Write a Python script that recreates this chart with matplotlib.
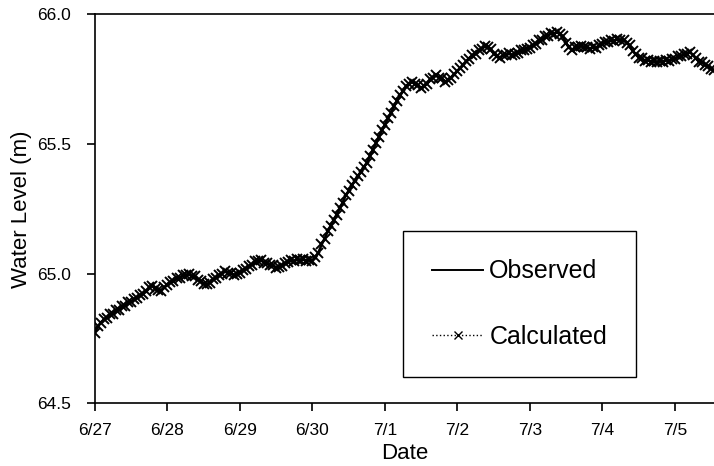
import numpy as np
import matplotlib.pyplot as plt
from matplotlib.lines import Line2D

plt.rcParams['font.family'] = ['Liberation Sans', 'DejaVu Sans']

# hourly readings starting 6/27 00:00
hours = list(range(206))
observed = [
    64.775, 64.795, 64.812, 64.822, 64.830, 64.840, 64.847, 64.855, 64.862, 64.870,
    64.878, 64.886, 64.893, 64.900, 64.907, 64.915, 64.922, 64.930, 64.945, 64.955,
    64.945, 64.932, 64.935, 64.945, 64.958, 64.966, 64.972, 64.978, 64.984, 64.990,
    64.995, 64.996, 64.992, 64.986, 64.978, 64.968, 64.960, 64.956, 64.965, 64.976,
    64.984, 64.992, 65.000, 65.006, 65.005, 65.000, 64.996, 64.996, 65.004, 65.012,
    65.020, 65.027, 65.035, 65.044, 65.052, 65.050, 65.044, 65.038, 65.034, 65.030,
    65.025, 65.022, 65.030, 65.038, 65.045, 65.048, 65.050, 65.052, 65.053, 65.053,
    65.052, 65.050, 65.049, 65.060, 65.082, 65.110, 65.135, 65.160, 65.185, 65.205,
    65.228, 65.250, 65.275, 65.300, 65.320, 65.340, 65.358, 65.375, 65.393, 65.410,
    65.428, 65.452, 65.478, 65.502, 65.528, 65.552, 65.575, 65.598, 65.620, 65.645,
    65.668, 65.685, 65.705, 65.722, 65.735, 65.738, 65.735, 65.725, 65.718, 65.722,
    65.735, 65.748, 65.758, 65.762, 65.758, 65.750, 65.742, 65.745, 65.755, 65.768,
    65.782, 65.792, 65.805, 65.818, 65.830, 65.840, 65.850, 65.860, 65.868, 65.875,
    65.876, 65.865, 65.850, 65.838, 65.835, 65.840, 65.845, 65.847, 65.845, 65.846,
    65.852, 65.858, 65.864, 65.869, 65.872, 65.880, 65.888, 65.897, 65.905, 65.912,
    65.920, 65.925, 65.928, 65.930, 65.925, 65.912, 65.890, 65.870, 65.865, 65.870,
    65.876, 65.877, 65.875, 65.872, 65.870, 65.871, 65.873, 65.880, 65.887, 65.892,
    65.895, 65.898, 65.900, 65.903, 65.902, 65.898, 65.892, 65.878, 65.860, 65.846,
    65.835, 65.827, 65.824, 65.822, 65.820, 65.818, 65.817, 65.818, 65.820, 65.822,
    65.824, 65.826, 65.830, 65.835, 65.840, 65.845, 65.850, 65.853, 65.845, 65.830,
    65.818, 65.815, 65.808, 65.798, 65.790, 65.782,
]
calculated = [
    64.772, 64.798, 64.810, 64.825, 64.828, 64.843, 64.845, 64.858, 64.860, 64.873,
    64.876, 64.889, 64.891, 64.903, 64.905, 64.918, 64.920, 64.933, 64.948, 64.952,
    64.942, 64.935, 64.932, 64.948, 64.955, 64.969, 64.970, 64.981, 64.982, 64.993,
    64.993, 64.999, 64.990, 64.989, 64.975, 64.971, 64.958, 64.959, 64.962, 64.979,
    64.982, 64.995, 64.998, 65.009, 65.003, 65.003, 64.994, 64.999, 65.002, 65.015,
    65.018, 65.030, 65.033, 65.047, 65.050, 65.053, 65.042, 65.041, 65.032, 65.033,
    65.023, 65.025, 65.028, 65.041, 65.043, 65.051, 65.048, 65.055, 65.051, 65.056,
    65.050, 65.053, 65.047, 65.063, 65.080, 65.113, 65.133, 65.163, 65.183, 65.208,
    65.226, 65.253, 65.273, 65.303, 65.318, 65.343, 65.356, 65.378, 65.391, 65.413,
    65.426, 65.455, 65.476, 65.505, 65.526, 65.555, 65.573, 65.601, 65.618, 65.648,
    65.666, 65.688, 65.703, 65.725, 65.733, 65.741, 65.733, 65.728, 65.716, 65.725,
    65.733, 65.751, 65.756, 65.765, 65.756, 65.753, 65.740, 65.748, 65.753, 65.771,
    65.780, 65.795, 65.803, 65.821, 65.828, 65.843, 65.848, 65.863, 65.866, 65.878,
    65.874, 65.868, 65.848, 65.841, 65.833, 65.843, 65.843, 65.850, 65.843, 65.849,
    65.850, 65.861, 65.862, 65.867, 65.870, 65.883, 65.886, 65.900, 65.903, 65.915,
    65.918, 65.928, 65.926, 65.933, 65.923, 65.915, 65.888, 65.873, 65.863, 65.873,
    65.874, 65.880, 65.873, 65.875, 65.868, 65.874, 65.871, 65.883, 65.885, 65.895,
    65.893, 65.901, 65.898, 65.906, 65.900, 65.901, 65.890, 65.881, 65.858, 65.849,
    65.833, 65.830, 65.822, 65.825, 65.818, 65.821, 65.815, 65.821, 65.818, 65.825,
    65.822, 65.829, 65.828, 65.838, 65.838, 65.848, 65.848, 65.856, 65.843, 65.833,
    65.816, 65.818, 65.806, 65.801, 65.788, 65.785,
]
date_labels = ["6/27", "6/28", "6/29", "6/30", "7/1", "7/2", "7/3", "7/4", "7/5"]
y_ticks = [64.5, 65.0, 65.5, 66.0]

days = np.array(hours) / 24.0

fig = plt.figure(figsize=(7.14, 4.66), dpi=100)
ax = fig.add_axes([0.133, 0.135, 0.867, 0.834])

ax.plot(days, observed, color='black', lw=1.8, zorder=2)
ax.plot(days, calculated, color='black', ls=':', lw=1.0, marker='x',
        ms=6.5, mew=1.4, zorder=3)

ax.set_xlim(0, 8.54)
ax.set_ylim(64.5, 66.0)
ax.set_xticks(range(len(date_labels)))
ax.set_xticklabels(date_labels)
ax.set_yticks(y_ticks)
ax.set_yticklabels([f"{v:.1f}" for v in y_ticks])
ax.tick_params(direction='out', length=6, width=1.2, labelsize=12.5,
               colors='black')
ax.tick_params(axis='x', pad=8)
ax.tick_params(axis='y', pad=11)
ax.spines['right'].set_visible(False)
for s in ['left', 'bottom', 'top']:
    ax.spines[s].set_linewidth(1.2)

ax.set_xlabel("Date", fontsize=16, labelpad=4)
ax.set_ylabel("Water Level (m)", fontsize=16, labelpad=4)

handles = [Line2D([], [], color='black', lw=1.4),
           Line2D([], [], color='black', ls=':', lw=1.0, marker='x', ms=6, mew=1.0)]
leg = ax.legend(handles, ["Observed", "Calculated"], loc='center',
                bbox_to_anchor=(519.5 / 714, 1 - 304 / 466),
                bbox_transform=fig.transFigure, fontsize=18, frameon=True,
                fancybox=False, edgecolor='black', framealpha=1,
                handlelength=2.05, handletextpad=0.25, labelspacing=1.65,
                borderpad=1.15, markerscale=1.0)
leg.get_frame().set_linewidth(1.0)

fig.savefig("out.png", dpi=100)
